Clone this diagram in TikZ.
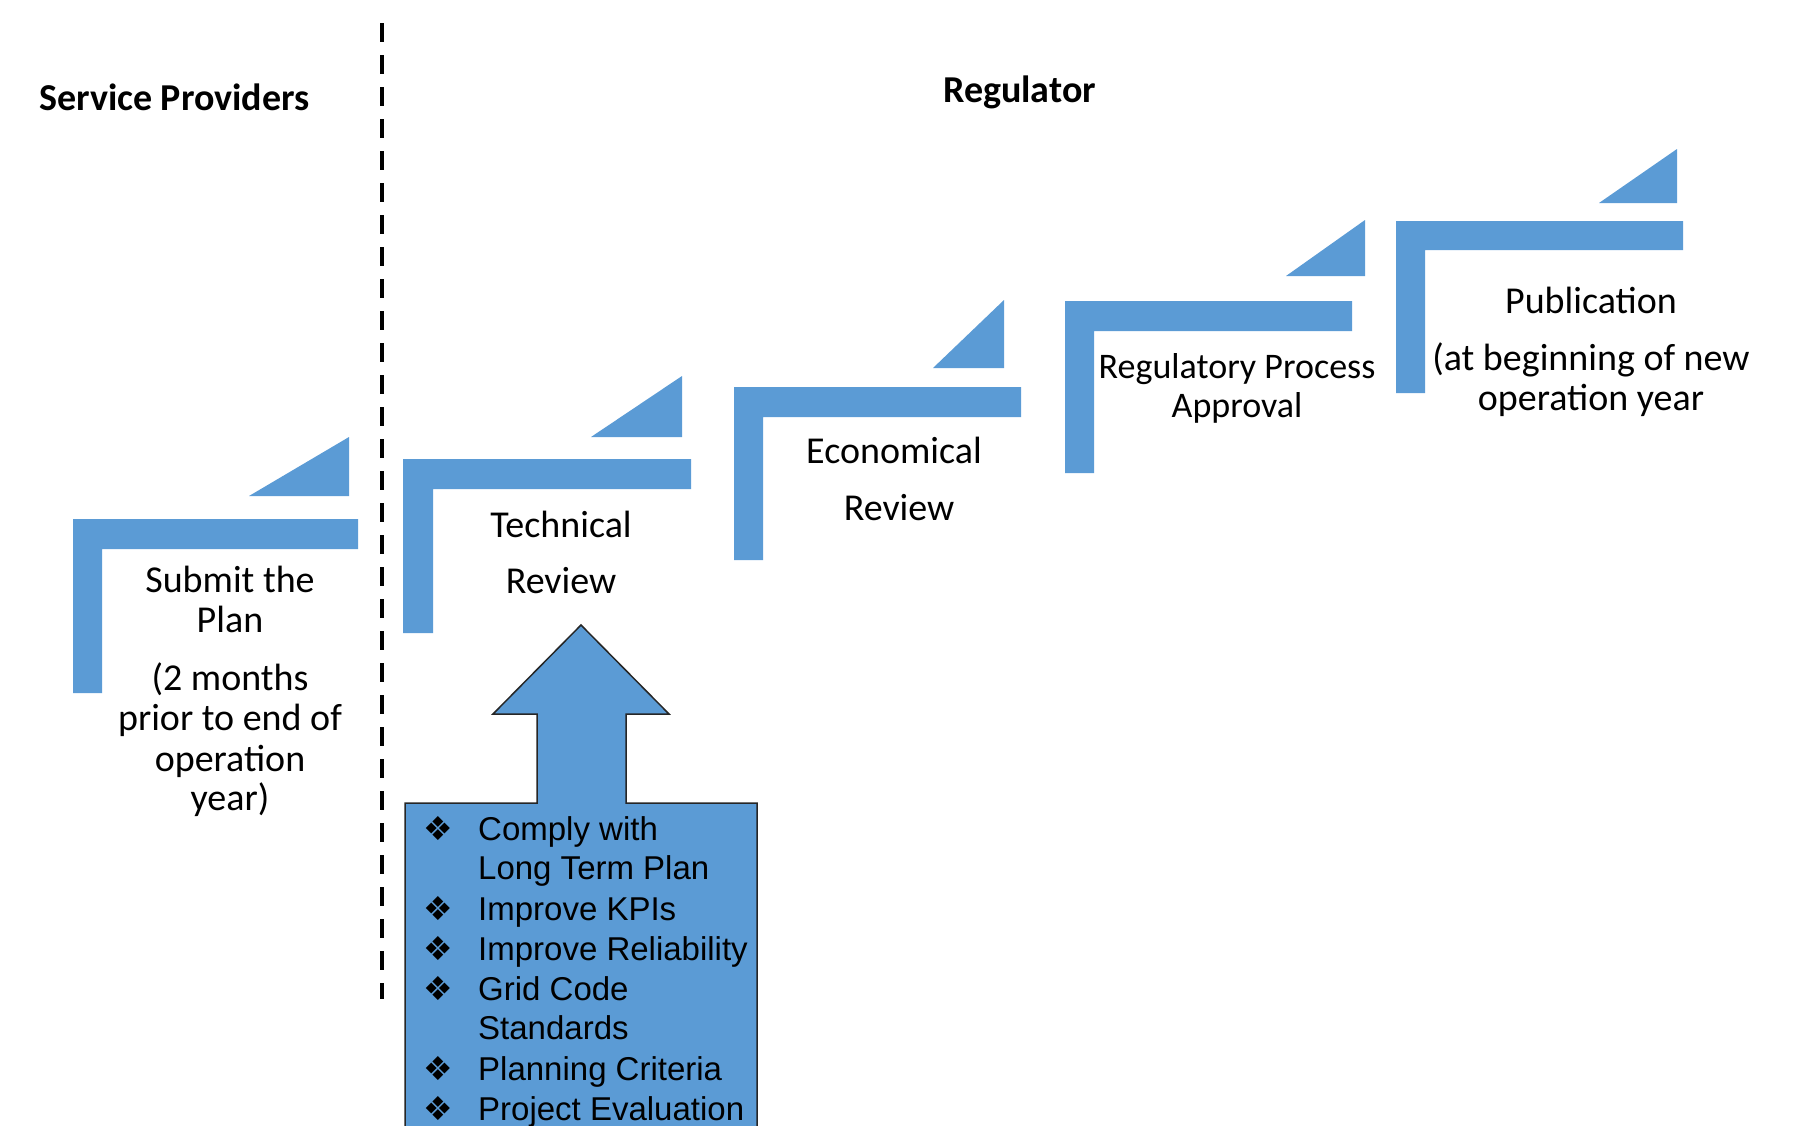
\documentclass[tikz,border=0pt]{standalone}
\usepackage{fontspec}
\setmainfont{Carlito}
\newfontfamily\arialf{Liberation Sans}
\newfontfamily\symf{DejaVu Sans}
\definecolor{stepblue}{HTML}{5B9BD5}
\begin{document}
\begin{tikzpicture}[x=1pt,y=-1pt,
  bar/.style={fill=stepblue},
  lbl/.style={inner sep=0pt,anchor=base,font=\fontsize{38}{40}\selectfont},
  lbls/.style={inner sep=0pt,anchor=base,font=\fontsize{36}{40}\selectfont},
  head/.style={inner sep=0pt,anchor=base west,font=\fontsize{38}{40}\selectfont\bfseries},
  itm/.style={inner sep=0pt,anchor=base west,font=\arialf\fontsize{33}{40}\selectfont},
  blt/.style={inner sep=0pt,anchor=base,font=\symf\fontsize{33}{36}\selectfont},
  divider/.style={line width=4pt,dash pattern=on 19pt off 13pt}]
\useasboundingbox (0,0) rectangle (1797,1125);
\clip (0,0) rectangle (1797,1125);

% headings
\node[head] (hsp) at (39,110) {Service Providers};
\node[head] (hreg) at (943,102) {Regulator};

% divider
\coordinate (dtop) at (382,23);
\coordinate (dbot) at (382,999);
\draw[divider] (dtop) -- (dbot);

% step 1
\fill[bar] (73,519) -- (358,519) -- (358,549) -- (102,549) -- (102,693) -- (73,693) -- cycle;
\fill[bar] (249,496) -- (349,437) -- (349,496) -- cycle;
\node[lbl] (s1a) at (230,592) {Submit the};
\node[lbl] (s1b) at (230,632) {Plan};
\node[lbl] (s1c) at (230,690) {(2 months};
\node[lbl] (s1d) at (230,730) {prior to end of};
\node[lbl] (s1e) at (230,771) {operation};
\node[lbl] (s1f) at (230,810) {year)};

% step 2
\fill[bar] (403,459) -- (691,459) -- (691,489) -- (433,489) -- (433,633) -- (403,633) -- cycle;
\fill[bar] (591,437) -- (682,376) -- (682,437) -- cycle;
\node[lbl] (s2a) at (561,537) {Technical};
\node[lbl] (s2b) at (561,593) {Review};

% step 3
\fill[bar] (734,387) -- (1021,387) -- (1021,417) -- (763,417) -- (763,560) -- (734,560) -- cycle;
\fill[bar] (933,368) -- (1004,300) -- (1004,368) -- cycle;
\node[lbl] (s3a) at (894,463) {Economical};
\node[lbl] (s3b) at (899,520) {Review};

% step 4
\fill[bar] (1065,301) -- (1352,301) -- (1352,331) -- (1094,331) -- (1094,473) -- (1065,473) -- cycle;
\fill[bar] (1286,276) -- (1365,220) -- (1365,276) -- cycle;
\node[lbls] (s4a) at (1237,378) {Regulatory Process};
\node[lbls] (s4b) at (1237,417) {Approval};

% step 5
\fill[bar] (1396,221) -- (1683,221) -- (1683,250) -- (1425,250) -- (1425,393) -- (1396,393) -- cycle;
\fill[bar] (1599,203) -- (1677,149) -- (1677,203) -- cycle;
\node[lbl] (s5a) at (1591,313) {Publication};
\node[lbl] (s5b) at (1591,370) {(at beginning of new};
\node[lbl] (s5c) at (1591,410) {operation year};

% arrow callout with criteria
\draw[fill=stepblue,draw=black!85,line width=1.5pt,line join=miter]
  (405,1140) -- (405,803) -- (537,803) -- (537,714) -- (493,714) -- (581,625)
  -- (669,714) -- (626,714) -- (626,803) -- (757,803) -- (757,1140) -- cycle;

\node[blt] (b1) at (438,840) {❖};
\node[itm] (t1) at (478,840) {Comply with};
\node[itm] (t1b) at (478,879) {Long Term Plan};
\node[blt] (b2) at (438,920) {❖};
\node[itm] (t2) at (478,920) {Improve KPIs};
\node[blt] (b3) at (438,960) {❖};
\node[itm] (t3) at (478,960) {Improve Reliability};
\node[blt] (b4) at (438,1000) {❖};
\node[itm] (t4) at (478,1000) {Grid Code};
\node[itm] (t4b) at (478,1039) {Standards};
\node[blt] (b5) at (438,1080) {❖};
\node[itm] (t5) at (478,1080) {Planning Criteria};
\node[blt] (b6) at (438,1120) {❖};
\node[itm] (t6) at (478,1120) {Project Evaluation};
\end{tikzpicture}
\end{document}
